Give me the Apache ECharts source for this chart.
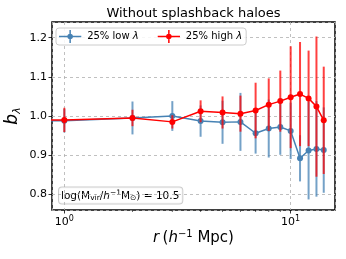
<!DOCTYPE html>
<html>
<head>
<meta charset="utf-8">
<script src="https://cdn.jsdelivr.net/npm/echarts@6/dist/echarts.min.js"></script>
<style>html,body{margin:0;padding:0;background:#fff}#c{width:346px;height:259px}</style>
</head>
<body>
<div id="c"></div>
<script>
// ---- data ----
const radii = [0.5, 1, 2, 3, 4, 5, 6, 7, 8, 9, 10, 11, 12, 13, 14];
const lowLambda = [0.988, 0.988, 0.995, 1.000, 0.987, 0.984, 0.985, 0.956, 0.968, 0.972, 0.962, 0.892, 0.912, 0.916, 0.913];
const lowLambdaErr = [0.030, 0.030, 0.042, 0.038, 0.040, 0.055, 0.074, 0.052, 0.074, 0.071, 0.072, 0.059, 0.125, 0.122, 0.109];
const highLambda = [0.990, 0.990, 0.995, 0.985, 1.012, 1.009, 1.006, 1.014, 1.029, 1.038, 1.048, 1.056, 1.045, 1.024, 0.989];
const highLambdaErr = [0.030, 0.031, 0.021, 0.017, 0.028, 0.041, 0.046, 0.071, 0.067, 0.078, 0.130, 0.133, 0.122, 0.179, 0.137];
const minorTicks = [2, 3, 4, 5, 6, 7, 8, 9];
const seriesNames = ['25% low λ', '25% high λ'];
const titleText = 'Without splashback haloes';

const X_MIN = 0.882, X_MAX = 15.7, Y_MIN = 0.76, Y_MAX = 1.24;
const BLUE = '#4682b4', RED = '#ff0000';
const FONT = 'DejaVu Sans';

const chart = echarts.init(document.getElementById('c'), null, {renderer: 'canvas'});

function pts(ys) { return radii.map((r, i) => [r, ys[i]]); }
function errs(ys, es) { return radii.map((r, i) => [r, ys[i], es[i]]); }

function errSeries(ys, es, color, z) {
  return {
    type: 'custom', z: z, clip: true, silent: true,
    data: errs(ys, es),
    renderItem: function (params, api) {
      const x = api.value(0), y = api.value(1), e = api.value(2);
      const t = api.coord([x, y + e]), b = api.coord([x, y - e]);
      return {type: 'line', shape: {x1: t[0], y1: t[1], x2: b[0], y2: b[1]},
              style: {stroke: color, lineWidth: 2, opacity: 0.75}};
    }
  };
}

function lineSeries(name, ys, color, z) {
  return {
    name: name, type: 'line', z: z, clip: true, silent: true,
    data: pts(ys), symbol: 'circle', symbolSize: 6, showSymbol: true,
    lineStyle: {color: color, width: 1.5}, itemStyle: {color: color},
    animation: false
  };
}

const legendIcon = 'path://M0,6.3H24V7.7H0Z M11.2,0H12.8V14H11.2Z M15,7A3,3 0 1,1 9,7A3,3 0 1,1 15,7Z';

chart.setOption({
  animation: false,
  grid: {left: 52, right: 11, top: 22, bottom: 49, show: true, borderColor: '#000', borderWidth: 1.5, backgroundColor: 'transparent'},
  xAxis: {
    type: 'log', min: X_MIN, max: X_MAX, logBase: 10,
    axisLine: {show: false},
    axisTick: {show: true, length: 3.5, lineStyle: {color: '#000', width: 0.8}},
    axisLabel: {
      showMinLabel: false, showMaxLabel: false, margin: 5,
      color: '#000', fontFamily: FONT, fontSize: 11,
      formatter: function (v) {
        const ex = Math.round(Math.log10(v));
        if (Math.abs(Math.log10(v) - ex) > 1e-6) return '';
        return '{b|10}{s|' + ex + '}';
      },
      rich: {b: {fontFamily: FONT, fontSize: 11, color: '#000'},
             s: {fontFamily: FONT, fontSize: 8, color: '#000', verticalAlign: 'top', padding: [0, 0, 6, 0]}}
    },
    splitLine: {show: true, lineStyle: {color: '#b0b0b0', type: [3, 3], width: 0.8}}
  },
  yAxis: {
    type: 'value', min: Y_MIN, max: Y_MAX,
    axisLine: {show: false},
    axisTick: {show: true, length: 3.5, lineStyle: {color: '#000', width: 0.8}},
    axisLabel: {showMinLabel: false, showMaxLabel: false, color: '#000', fontFamily: FONT, fontSize: 11, margin: 5,
                formatter: v => v.toFixed(1)},
    splitLine: {show: true, lineStyle: {color: '#b0b0b0', type: [3, 3], width: 0.8}}
  },
  legend: {
    data: seriesNames.map((n, i) => ({name: n, icon: legendIcon, itemStyle: {color: i === 0 ? BLUE : RED}})),
    left: 56, top: 28, orient: 'horizontal',
    itemWidth: 24, itemHeight: 13, itemGap: 19,
    padding: [2, 4, 2, 3],
    borderColor: '#cccccc', borderWidth: 1, borderRadius: 3,
    backgroundColor: 'rgba(255,255,255,0.85)',
    selectedMode: false,
    formatter: n => n.replace('λ', '{i|λ}'),
    textStyle: {fontFamily: FONT, fontSize: 10, color: '#000',
                rich: {i: {fontFamily: FONT, fontSize: 10, fontStyle: 'italic', color: '#000'}}}
  },
  series: [
    {
      type: 'custom', z: 1, silent: true, clip: false,
      data: minorTicks.map(v => [v]),
      renderItem: function (params, api) {
        const p = api.coord([api.value(0), Y_MIN]);
        return {type: 'line', shape: {x1: p[0], y1: p[1], x2: p[0], y2: p[1] + 2},
                style: {stroke: '#000', lineWidth: 0.6}};
      }
    },
    errSeries(lowLambda, lowLambdaErr, BLUE, 2),
    lineSeries(seriesNames[0], lowLambda, BLUE, 3),
    errSeries(highLambda, highLambdaErr, RED, 4),
    lineSeries(seriesNames[1], highLambda, RED, 5)
  ],
  graphic: [
    {type: 'text', x: 193.5, y: 14, style: {text: titleText, fontFamily: FONT, fontSize: 13, fill: '#000', align: 'center', verticalAlign: 'middle'}},
    {type: 'text', x: 13, y: 116, rotation: Math.PI / 2,
     style: {text: '{b|b}{s|λ}', align: 'center', verticalAlign: 'middle',
             rich: {b: {fontFamily: FONT, fontSize: 17, fontStyle: 'italic', fill: '#000'},
                    s: {fontFamily: FONT, fontSize: 11, fontStyle: 'italic', fill: '#000', verticalAlign: 'bottom', padding: [8, 0, 0, 0]}}}},
    {type: 'text', x: 193.5, y: 238,
     style: {text: '{i|r} {n|(}{i|h}{s|−1}{n| Mpc)}', align: 'center', verticalAlign: 'middle',
             rich: {i: {fontFamily: FONT, fontSize: 15, fontStyle: 'italic', fill: '#000'},
                    n: {fontFamily: FONT, fontSize: 15, fill: '#000'},
                    s: {fontFamily: FONT, fontSize: 10, fill: '#000', verticalAlign: 'top', padding: [0, 0, 8, 0]}}}},
    {type: 'text', x: 59, y: 195.5,
     style: {text: '{n|log(M}{sub|vir}{n|/}{i|h}{sup|−1}{n|M}{sub|⊙}{n|) = 10.5}', align: 'left', verticalAlign: 'middle',
             backgroundColor: 'rgba(255,255,255,0.85)', borderColor: '#cccccc', borderWidth: 1, borderRadius: 3, padding: [2, 3, 1, 2],
             rich: {n: {fontFamily: FONT, fontSize: 10.5, fill: '#000'},
                    i: {fontFamily: FONT, fontSize: 10.5, fontStyle: 'italic', fill: '#000'},
                    sub: {fontFamily: FONT, fontSize: 7.5, fill: '#000', verticalAlign: 'bottom', padding: [5, 0, 0, 0]},
                    sup: {fontFamily: FONT, fontSize: 7.5, fill: '#000', verticalAlign: 'top', padding: [0, 0, 5, 0]}}}}
  ]
});
</script>
</body>
</html>
